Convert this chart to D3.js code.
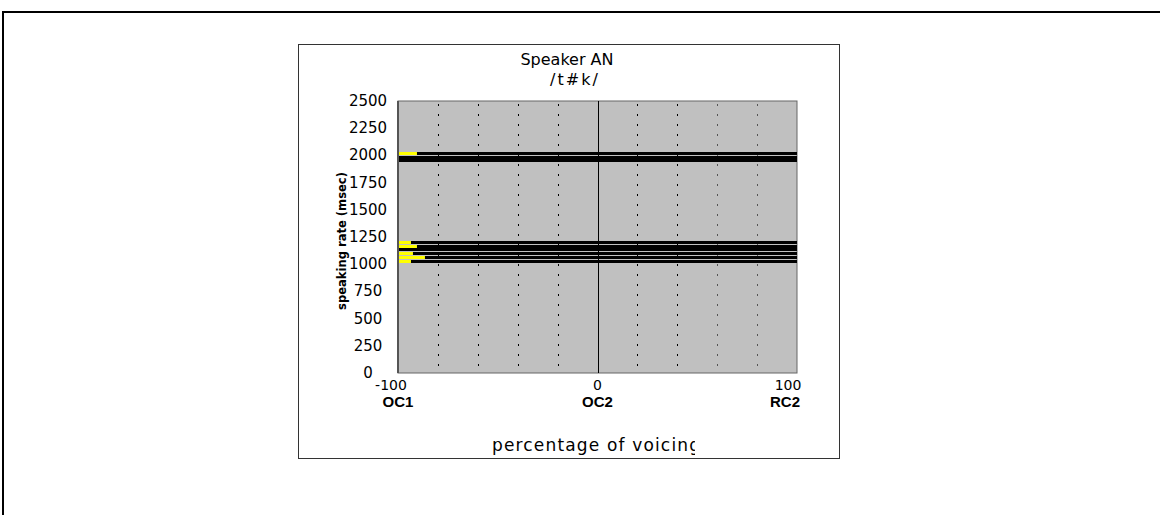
<!DOCTYPE html>
<html>
<head>
<meta charset="utf-8">
<script src="https://cdn.jsdelivr.net/npm/d3@7"></script>
<style>
  body { margin: 0; background: #fff; }
  svg { display: block; }
</style>
</head>
<body>
<svg id="chart" width="1160" height="515"></svg>
<script>
// tokens: speaking rate (msec) and where the yellow part stops (percentage of voicing)
var rates = [2020, 1985, 1950, 1200, 1165, 1131, 1097, 1063, 1026];
var yellowEnd = [-90.5, -100, -100, -93.5, -90.5, -100, -92.5, -86.5, -93.5];

var yTicks = [0, 250, 500, 750, 1000, 1250, 1500, 1750, 2000, 2250, 2500];
var xTicks = [-100, 0, 100];
var xNames = ["OC1", "OC2", "RC2"];
var gridVals = [-80, -60, -40, -20, 20, 40, 60, 80];

var svg = d3.select("#chart");

// outer frame
svg.append("rect")
    .attr("x", 3).attr("y", 12)
    .attr("width", 1200).attr("height", 600)
    .attr("fill", "none").attr("stroke", "#000").attr("stroke-width", 2);

// chart box
svg.append("rect")
    .attr("x", 298.5).attr("y", 44.5)
    .attr("width", 541).attr("height", 414)
    .attr("fill", "#fff").attr("stroke", "#333").attr("stroke-width", 1);

var pLeft = 398, pRight = 797, pTop = 101, pBottom = 373;

var x = d3.scaleLinear().domain([-100, 100]).range([pLeft, pRight]);
var y = d3.scaleLinear().domain([0, 2500]).range([pBottom, pTop]);

var g = svg.append("g");

// plot background
g.append("rect")
    .attr("x", pLeft).attr("y", pTop)
    .attr("width", pRight - pLeft).attr("height", pBottom - pTop)
    .attr("fill", "#c0c0c0")
    .attr("stroke", "#666").attr("stroke-width", 1);

// dotted verticals
g.selectAll(".grid")
    .data(gridVals)
    .enter().append("line")
    .attr("class", "grid")
    .attr("x1", d => Math.round(x(d)) + 0.5)
    .attr("x2", d => Math.round(x(d)) + 0.5)
    .attr("y1", pTop + 3).attr("y2", pBottom)
    .attr("stroke", d => d < 50 ? "#000" : "#555")
    .attr("stroke-width", 1)
    .attr("stroke-dasharray", "2,8");

// zero line
g.append("line")
    .attr("x1", Math.round(x(0)) + 0.5).attr("x2", Math.round(x(0)) + 0.5)
    .attr("y1", pTop).attr("y2", pBottom)
    .attr("stroke", "#000").attr("stroke-width", 1);

// token bars: black full width, yellow part on top
var barH = 3;
g.selectAll(".bar")
    .data(rates)
    .enter().append("rect")
    .attr("class", "bar")
    .attr("x", x(-100))
    .attr("y", d => Math.round(y(d) - barH / 2))
    .attr("width", x(100) - x(-100))
    .attr("height", barH)
    .attr("fill", "#000");

g.selectAll(".yel")
    .data(rates)
    .enter().append("rect")
    .attr("class", "yel")
    .attr("x", x(-100))
    .attr("y", d => Math.round(y(d) - barH / 2))
    .attr("width", (d, i) => x(yellowEnd[i]) - x(-100))
    .attr("height", barH)
    .attr("fill", "#ffff00");

// left axis line
g.append("line")
    .attr("x1", pLeft).attr("x2", pLeft)
    .attr("y1", pTop).attr("y2", pBottom)
    .attr("stroke", "#555").attr("stroke-width", 2);

// y axis labels (centred in their column, as in the original)
g.selectAll(".ytick")
    .data(yTicks)
    .enter().append("text")
    .attr("class", "ytick")
    .attr("x", 368)
    .attr("y", d => y(d) + 5)
    .attr("text-anchor", "middle")
    .attr("font-family", "DejaVu Sans")
    .attr("font-size", 15)
    .text(d => d);

// x axis labels
g.selectAll(".xtick")
    .data(xTicks)
    .enter().append("text")
    .attr("class", "xtick")
    .attr("x", d => x(d) + (d === -100 ? -7 : d === 100 ? -9 : 0))
    .attr("y", 390)
    .attr("text-anchor", "middle")
    .attr("font-family", "DejaVu Sans")
    .attr("font-size", 14)
    .text(d => d);

g.selectAll(".xname")
    .data(xTicks)
    .enter().append("text")
    .attr("class", "xname")
    .attr("x", d => x(d) + (d === -100 ? 0 : d === 100 ? -12 : 0))
    .attr("y", 407)
    .attr("text-anchor", "middle")
    .attr("font-family", "Liberation Sans")
    .attr("font-weight", "bold")
    .attr("font-size", 15)
    .text((d, i) => xNames[i]);

// titles
svg.append("text")
    .attr("x", 567).attr("y", 65)
    .attr("text-anchor", "middle")
    .attr("font-family", "DejaVu Sans")
    .attr("font-size", 16)
    .text("Speaker AN");

svg.append("text")
    .attr("x", 550).attr("y", 85)
    .attr("font-family", "DejaVu Sans")
    .attr("font-size", 16)
    .attr("textLength", 48)
    .attr("lengthAdjust", "spacing")
    .text("/t#k/");

// y axis title
svg.append("text")
    .attr("transform", "translate(346," + ((pTop + pBottom) / 2 + 4) + ") rotate(-90)")
    .attr("text-anchor", "middle")
    .attr("font-family", "DejaVu Sans")
    .attr("font-weight", "bold")
    .attr("font-size", 12.5)
    .attr("textLength", 138)
    .attr("lengthAdjust", "spacingAndGlyphs")
    .text("speaking rate (msec)");

// x axis title, clipped on the right like the original
svg.append("clipPath").attr("id", "xclip")
    .append("rect").attr("x", 400).attr("y", 420).attr("width", 295).attr("height", 40);

svg.append("text")
    .attr("clip-path", "url(#xclip)")
    .attr("x", 492).attr("y", 451)
    .attr("font-family", "DejaVu Sans")
    .attr("font-size", 17)
    .attr("textLength", 208)
    .attr("lengthAdjust", "spacing")
    .text("percentage of voicing");
</script>
</body>
</html>
